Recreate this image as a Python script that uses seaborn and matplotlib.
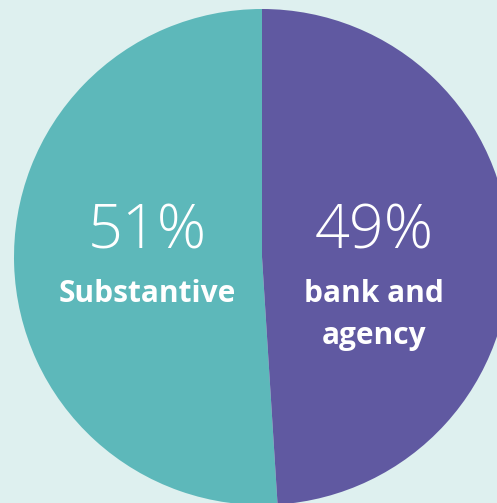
import matplotlib
matplotlib.use("Agg")
import matplotlib.pyplot as plt
import seaborn as sns

categories = ["Substantive", "bank and\nagency"]
values = [51, 49]
colors = ["#5DB8BA", "#6059A1"]
bg = "#DEF0EF"

sns.set_theme(style="white")
plt.rcParams["font.family"] = ["Open Sans", "DejaVu Sans"]

W, H = 497, 503
fig = plt.figure(figsize=(W / 100, H / 100), dpi=100, facecolor=bg)
ax = fig.add_axes([0, 0, 1, 1])
ax.set_facecolor(bg)

cx, cy, r = 262, H - 257, 248
ax.pie(values, colors=colors, startangle=90, counterclock=True,
       center=(cx, cy), radius=r, wedgeprops=dict(linewidth=0))
ax.set_xlim(0, W)
ax.set_ylim(0, H)
ax.set_aspect("equal")
ax.axis("off")

label_x = [147, 374]
pct_base = 248
line_base = [302, 344]
for x, v, c in zip(label_x, values, categories):
    ax.text(x, H - pct_base, f"{v}%", color="white", fontsize=44, fontweight=300,
            ha="center", va="baseline")
    for i, line in enumerate(c.split("\n")):
        ax.text(x, H - line_base[i], line, color="white", fontsize=21.5,
                fontweight="bold", ha="center", va="baseline")

fig.savefig("out.png", dpi=100, facecolor=bg)
